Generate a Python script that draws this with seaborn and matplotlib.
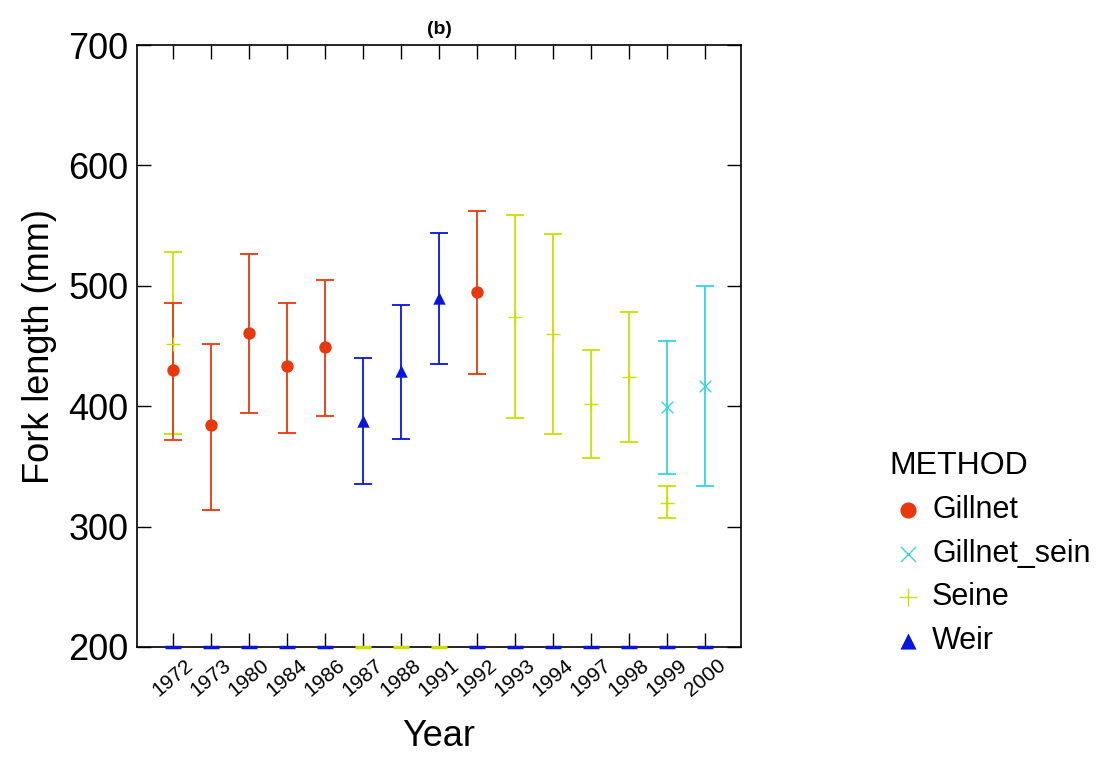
import pandas as pd
import matplotlib.pyplot as plt
import seaborn as sns

years = ["1972", "1973", "1980", "1984", "1986", "1987", "1988", "1991",
         "1992", "1993", "1994", "1997", "1998", "1999", "2000"]

# one row per year x method: mean, lower, upper
obs_year = ["1972", "1972", "1973", "1980", "1984", "1986", "1987", "1988", "1991",
            "1992", "1993", "1994", "1997", "1998", "1999", "1999", "2000"]
obs_method = ["Seine", "Gillnet", "Gillnet", "Gillnet", "Gillnet", "Gillnet", "Weir", "Weir", "Weir",
              "Gillnet", "Seine", "Seine", "Seine", "Seine", "Seine", "Gillnet_sein", "Gillnet_sein"]
obs_mean = [452, 430, 384, 461, 433, 449, 388, 429, 490, 495, 474, 460, 402, 424, 320, 399, 417]
obs_lo = [377, 372, 314, 394, 378, 392, 335, 373, 435, 427, 390, 377, 357, 370, 307, 344, 334]
obs_hi = [528, 486, 452, 526, 486, 505, 440, 484, 544, 562, 559, 543, 447, 478, 334, 454, 500]

# thin coloured strips along the baseline
base_method = ["Weir"] * 5 + ["Seine"] * 3 + ["Weir"] * 7

methods = ["Gillnet", "Gillnet_sein", "Seine", "Weir"]
palette = {"Gillnet": "#E8380D", "Gillnet_sein": "#33D6E0", "Seine": "#C8E000", "Weir": "#0A14E0"}
markers = {"Gillnet": "o", "Gillnet_sein": "x", "Seine": "+", "Weir": "^"}
sizes = {"Gillnet": 80, "Gillnet_sein": 70, "Seine": 110, "Weir": 80}

df = pd.DataFrame({"Year": obs_year, "METHOD": obs_method, "mean": obs_mean,
                   "lo": obs_lo, "hi": obs_hi})
df["x"] = df["Year"].map({y: i for i, y in enumerate(years)})

sns.set_style("white")
plt.rcParams["font.family"] = ["Liberation Sans", "DejaVu Sans"]
plt.rcParams["text.color"] = "black"
plt.rcParams["xtick.color"] = "black"
plt.rcParams["ytick.color"] = "black"
plt.rcParams["axes.labelcolor"] = "black"

fig = plt.figure(figsize=(11.11, 7.57), dpi=100)
ax = fig.add_axes([137 / 1111, 1 - 647 / 757, 604 / 1111, 602 / 757])

for _, r in df.iterrows():
    ax.errorbar(r["x"], r["mean"], yerr=[[r["mean"] - r["lo"]], [r["hi"] - r["mean"]]],
                fmt="none", ecolor=palette[r["METHOD"]], elinewidth=1.3, capsize=6.5, capthick=1.3)

for m in methods:
    sub = df[df["METHOD"] == m]
    lw = 1 if m in ("Gillnet_sein", "Seine") else 0
    sns.scatterplot(data=sub, x="x", y="mean", color=palette[m], marker=markers[m],
                    s=sizes[m], linewidth=lw, edgecolor=palette[m] if lw == 0 else None,
                    ax=ax, label=m, zorder=3)

for i, m in enumerate(base_method):
    ax.hlines(200, i - 0.22, i + 0.22, color=palette[m], lw=2.5, zorder=4, clip_on=False)

ax.set_xlim(-0.95, len(years) - 0.05)
ax.set_ylim(200, 700)
ax.set_xticks(range(len(years)))
ax.set_xticklabels(years, rotation=40, fontsize=15, ha="center")
ax.set_yticks([200, 300, 400, 500, 600, 700])
ax.tick_params(axis="y", labelsize=26, pad=6)
ax.tick_params(direction="in", length=10, width=1, top=True, right=True,
               left=True, bottom=True, color="black")
ax.tick_params(axis="x", pad=6)
for s in ax.spines.values():
    s.set_color("black")
    s.set_linewidth(1.2)
ax.set_xlabel("Year", fontsize=26, labelpad=14)
ax.set_ylabel("Fork length (mm)", fontsize=26, labelpad=8)
ax.set_title("(b)", fontsize=14, fontweight="bold", pad=8)

leg = ax.legend(title="METHOD", loc="center left", bbox_to_anchor=(1.2, 0.155),
                frameon=False, fontsize=22, title_fontsize=23, handletextpad=0.2,
                labelspacing=0.45, markerscale=1.3, handlelength=1.2)
leg._legend_box.align = "left"

fig.savefig("out.png", dpi=100)
